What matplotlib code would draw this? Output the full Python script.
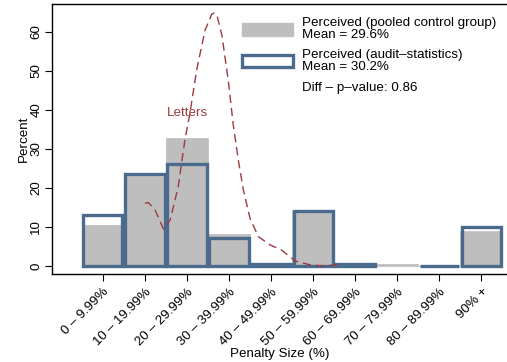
import matplotlib

matplotlib.use("Agg")
import matplotlib.pyplot as plt
from matplotlib.patches import Patch

plt.rcParams["font.family"] = ["Liberation Sans", "DejaVu Sans"]

categories = ["0 – 9.99%", "10 – 19.99%", "20 – 29.99%", "30 – 39.99%", "40 – 49.99%",
              "50 – 59.99%", "60 – 69.99%", "70 – 79.99%", "80 – 89.99%", "90% +"]
pooled = [10.5, 23.0, 32.9, 8.1, 0.3, 14.0, 0.3, 0.5, 0.0, 9.0]
audit = [13.2, 23.5, 26.2, 7.2, 0.4, 14.2, 0.4, None, 0.0, 10.1]

# "Letters" density curve (x in category units)
letters_x = [1.00, 1.08, 1.24, 1.44, 1.60, 1.79, 1.95, 2.07, 2.23, 2.43, 2.59, 2.65, 2.71,
             2.83, 2.98, 3.10, 3.22, 3.34, 3.50, 3.70, 3.98, 4.25, 4.57, 4.93, 5.25, 5.64]
letters_y = [16.1, 16.3, 14.4, 9.5, 11.8, 20.3, 32.3, 39.2, 50.3, 60.5, 64.6, 64.9, 64.4,
             59.2, 47.7, 36.2, 27.2, 19.5, 12.2, 7.5, 5.4, 4.1, 1.3, 0.3, 0.0, 0.4]

gray = "#bebebe"
blue = "#4a6b8c"
red = "#9c3a40"

fig = plt.figure(figsize=(5.07, 3.62), dpi=100)
ax = fig.add_axes([0.1026, 0.243, 0.8974, 0.746])

x = list(range(len(categories)))
ax.bar(x, pooled, width=1.0, color=gray, edgecolor=gray, linewidth=0.5, zorder=2)
ax_x = [i for i, v in zip(x, audit) if v is not None]
ax_v = [v for v in audit if v is not None]
ax.bar(ax_x, ax_v, width=0.93, facecolor="none", edgecolor=blue, linewidth=2.4, zorder=3)

ax.plot(letters_x, letters_y, color=red, linestyle=(0, (6, 3.5)), linewidth=1.0, zorder=4)
ax.text(2.0, 39.2, "Letters", color=red, fontsize=9.6, ha="center", va="center", zorder=5)

ax.set_xlim(-1.21, 9.61)
ax.set_ylim(-2.05, 67.2)
ax.set_yticks([0, 10, 20, 30, 40, 50, 60])
ax.set_yticklabels(["0", "10", "20", "30", "40", "50", "60"], rotation=90, va="center")
ax.set_xticks(x)
ax.set_xticklabels(categories, rotation=45, ha="right", rotation_mode="anchor")
ax.tick_params(axis="both", labelsize=9.6, length=5, width=0.8, color="black")
ax.tick_params(axis="y", pad=2)
ax.set_ylabel("Percent", fontsize=9.6, labelpad=0.5)
ax.set_xlabel("Penalty Size (%)", fontsize=9.6, labelpad=0)
for side in ["left", "bottom", "top"]:
    ax.spines[side].set_linewidth(1.0)
ax.spines["right"].set_visible(False)

handles = [
    Patch(facecolor=gray, edgecolor=gray),
    Patch(facecolor="white", edgecolor=blue, linewidth=2.4),
    Patch(facecolor="none", edgecolor="none"),
]
labels = [
    "Perceived (pooled control group)\nMean = 29.6%",
    "Perceived (audit–statistics)\nMean = 30.2%",
    "Diff – p–value: 0.86",
]
leg = ax.legend(handles, labels, loc="upper left", bbox_to_anchor=(0.4185, 0.950),
                frameon=False, fontsize=9.6, borderpad=0, borderaxespad=0,
                handlelength=3.8, handleheight=1.05, handletextpad=0.65,
                labelspacing=0.55)
for t in leg.get_texts():
    t.set_linespacing(1.0)

fig.savefig("out.png", dpi=100)
